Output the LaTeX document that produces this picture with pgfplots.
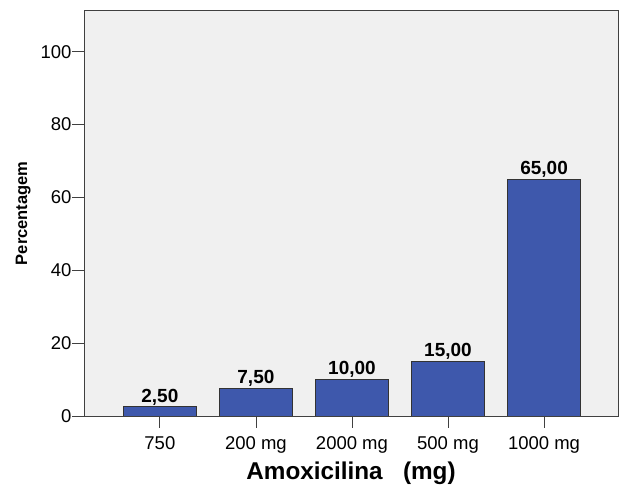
\documentclass[border=0pt]{standalone}
\usepackage{pgfplots}
\pgfplotsset{compat=1.18}
\usepackage{fontspec}
\setmainfont{Liberation Sans}
\definecolor{barblue}{RGB}{62,88,172}
\definecolor{bgray}{RGB}{240,240,240}
\begin{document}
\begin{tikzpicture}
\begin{axis}[
  name=ax,
  scale only axis,
  width=534pt, height=405.5pt,
  xmin=-0.79, xmax=4.77,
  ymin=0, ymax=111.3,
  axis background/.style={fill=bgray},
  axis line style={draw=black!75, line width=0.8pt},
  xtick={0,1,2,3,4},
  xticklabels={750,200 mg,2000 mg,500 mg,1000 mg},
  ytick={0,20,40,60,80,100},
  tick pos=left,
  tick align=outside,
  major tick length=12pt,
  tick style={draw=black!75, line width=0.8pt},
  /pgf/number format/assume math mode=true,
  ticklabel style={font=\fontsize{18.5}{21}\selectfont},
  xticklabel style={yshift=-5pt},
  yticklabel style={xshift=3pt},
  xlabel={\textbf{Amoxicilina\ \ \ (mg)}},
  xlabel style={font=\fontsize{24.3}{27}\selectfont, yshift=-2pt},
  ylabel={\textbf{Percentagem}},
  ylabel style={font=\fontsize{16.5}{18}\selectfont, yshift=3pt},
  ybar,
  bar width=72.4pt,
  nodes near coords,
  nodes near coords style={font=\bfseries\fontsize{19}{21}\selectfont, inner sep=1.5pt,
    /pgf/number format/.cd, fixed, fixed zerofill, precision=2, use comma},
]
\addplot[fill=barblue, draw=black!80, line width=0.8pt] coordinates {(0,2.5) (1,7.5) (2,10) (3,15) (4,65)};
\end{axis}
\pgfresetboundingbox
\path ([shift={(-84pt,-78pt)}]ax.south west) rectangle ++(621pt,494pt);
\end{tikzpicture}
\end{document}
